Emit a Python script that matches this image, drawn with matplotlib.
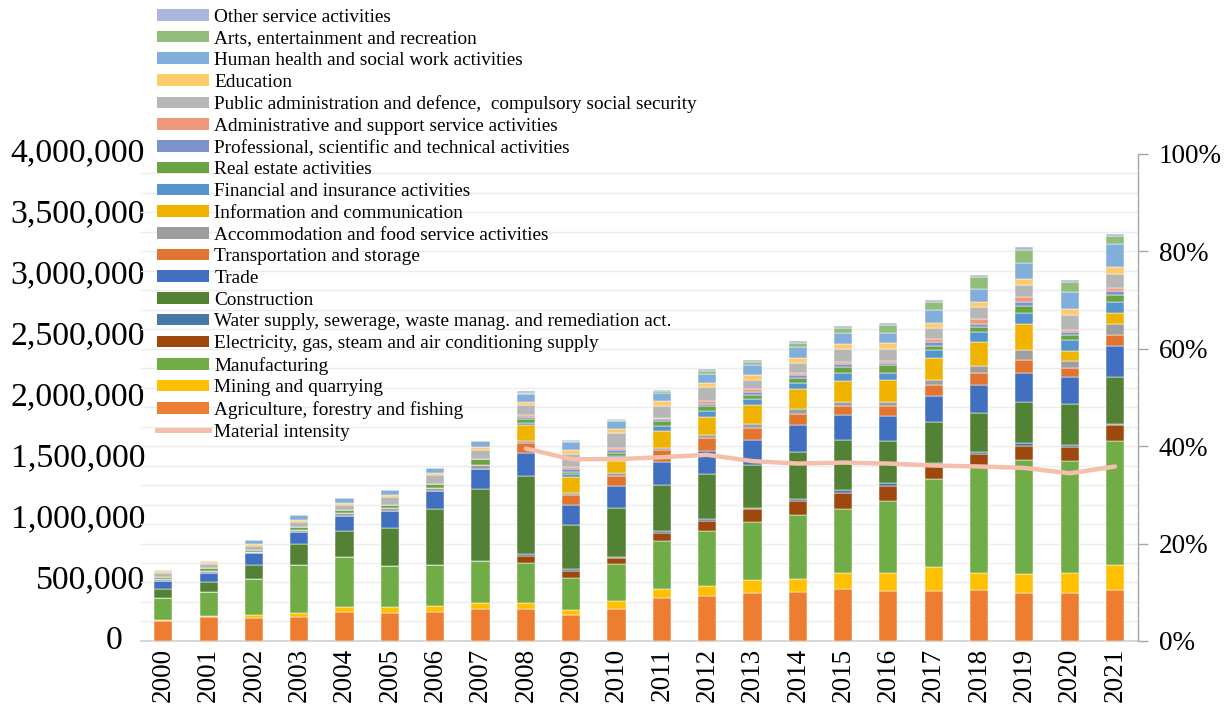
import matplotlib
matplotlib.use("Agg")
import matplotlib.pyplot as plt
import matplotlib.transforms as mtransforms
from matplotlib.patches import Patch
from matplotlib.lines import Line2D
import numpy as np

plt.rcParams['font.family'] = ['Liberation Serif', 'DejaVu Serif']

years = [str(y) for y in range(2000, 2022)]

# Gross value added by sector (thousands), stacked bottom to top
agriculture = [164, 194, 191, 200, 241, 230, 241, 263, 265, 216, 263, 356, 372, 397, 402, 429, 413, 413, 421, 397, 391, 418]
mining = [11, 11, 22, 27, 36, 49, 46, 46, 44, 41, 63, 68, 82, 104, 104, 126, 148, 191, 139, 150, 170, 205]
manufacturing = [175, 194, 295, 394, 410, 336, 334, 347, 334, 260, 304, 394, 449, 473, 528, 531, 585, 724, 875, 938, 913, 1017]
electricity = [0, 0, 0, 0, 0, 0, 0, 0, 57, 60, 49, 66, 85, 107, 118, 129, 129, 120, 101, 118, 120, 129]
water = [0, 0, 0, 0, 0, 0, 0, 0, 16, 11, 11, 16, 16, 14, 16, 22, 19, 12, 16, 19, 14, 11]
construction = [79, 82, 115, 178, 213, 315, 459, 588, 634, 361, 399, 380, 364, 350, 386, 410, 345, 336, 320, 336, 334, 383]
trade = [66, 79, 96, 96, 129, 139, 153, 170, 194, 167, 183, 191, 194, 208, 222, 211, 211, 211, 230, 243, 227, 260]
transport = [0, 0, 0, 0, 0, 0, 0, 0, 79, 79, 82, 96, 104, 98, 88, 71, 77, 90, 96, 107, 74, 90]
accommodation = [11, 16, 14, 19, 19, 25, 22, 27, 16, 16, 22, 19, 27, 33, 36, 36, 36, 41, 60, 77, 57, 90]
information = [0, 0, 0, 0, 0, 0, 0, 0, 131, 134, 101, 137, 148, 153, 164, 170, 181, 186, 194, 219, 79, 85]
financial = [0, 0, 0, 0, 0, 0, 0, 0, 22, 22, 38, 41, 44, 46, 49, 60, 55, 63, 85, 90, 88, 93]
real_estate = [19, 19, 16, 22, 27, 22, 36, 52, 27, 22, 27, 38, 44, 38, 41, 55, 63, 36, 38, 57, 44, 60]
professional = [0, 0, 0, 0, 0, 0, 0, 0, 16, 19, 22, 16, 19, 22, 25, 22, 19, 27, 30, 33, 27, 33]
administrative = [0, 0, 0, 0, 0, 0, 0, 0, 16, 16, 19, 14, 22, 22, 16, 19, 19, 27, 36, 41, 16, 25]
public_admin = [35, 36, 30, 41, 44, 68, 74, 77, 88, 109, 126, 96, 112, 79, 88, 104, 93, 88, 96, 96, 123, 115]
education = [11, 14, 16, 16, 16, 14, 16, 22, 25, 33, 33, 38, 38, 38, 41, 46, 49, 46, 41, 49, 46, 55]
health = [8, 14, 33, 41, 36, 41, 41, 49, 60, 63, 60, 71, 74, 82, 88, 85, 88, 104, 112, 128, 142, 191]
arts = [0, 0, 0, 0, 0, 0, 0, 0, 14, 11, 11, 11, 19, 27, 36, 46, 63, 68, 98, 112, 82, 60]
other_services = [0, 0, 0, 0, 0, 0, 0, 0, 11, 8, 5, 8, 16, 11, 14, 16, 16, 14, 16, 19, 19, 19]

# Material intensity (share), available from 2008
intensity_years = years[8:]
material_intensity = [0.395, 0.373, 0.373, 0.377, 0.382, 0.369, 0.364, 0.366, 0.364, 0.360, 0.358, 0.355, 0.344, 0.358]

sector_names = [
    "Agriculture, forestry and fishing",
    "Mining and quarrying",
    "Manufacturing",
    "Electricity, gas, steam and air conditioning supply",
    "Water supply, sewerage, waste manag. and remediation act.",
    "Construction",
    "Trade",
    "Transportation and storage",
    "Accommodation and food service activities",
    "Information and communication",
    "Financial and insurance activities",
    "Real estate activities",
    "Professional, scientific and technical activities",
    "Administrative and support service activities",
    "Public administration and defence,  compulsory social security",
    "Education",
    "Human health and social work activities",
    "Arts, entertainment and recreation",
    "Other service activities",
]
sector_values = [agriculture, mining, manufacturing, electricity, water, construction, trade,
                 transport, accommodation, information, financial, real_estate, professional,
                 administrative, public_admin, education, health, arts, other_services]
sector_colors = ["#ED7D31", "#FFC000", "#70AD47", "#9E480E", "#4679A8", "#548235", "#4270C0",
                 "#E07430", "#9E9E9E", "#F0B400", "#5594CC", "#6BA343", "#7E92CE",
                 "#F0997A", "#B7B7B7", "#FFCA6A", "#82AEDC", "#92BD7A", "#AAB6DC"]
line_color = "#F4BFAC"

fig = plt.figure(figsize=(12.31, 7.15), dpi=100)
ax = fig.add_axes([0.1142, 0.1035, 0.9242 - 0.1142, 0.7853 - 0.1035])

x = np.arange(len(years))
bottom = np.zeros(len(years))
for name, vals, col in zip(sector_names, sector_values, sector_colors):
    v = np.array(vals, dtype=float) * 1000
    ax.bar(x, v, width=0.4, bottom=bottom, color=col, edgecolor="white", linewidth=0.35, zorder=3)
    bottom += v

ax.set_xlim(-0.5, len(years) - 0.5)
ax.set_ylim(0, 4_000_000)
ax.set_xticks(x)
ax.set_xticklabels(years, rotation=90, fontsize=19.5)
ax.tick_params(axis="x", length=0, pad=5)

# Light horizontal guides every 4 % of the secondary scale
ax.set_yticks(np.arange(0, 4_000_001, 160_000), minor=True)
ax.yaxis.grid(True, which="minor", color="#EDEDED", linewidth=1.0, zorder=0)
ax.tick_params(axis="y", which="both", length=0, labelleft=False)
ax.set_yticks(np.arange(0, 4_000_001, 500_000))

left_ticks = np.arange(0, 4_000_001, 500_000)
trans = mtransforms.blended_transform_factory(ax.transAxes, ax.transData)
for t in left_ticks:
    label = f"{int(t):,}"
    xoff = 0.0045 if t > 0 else -0.018
    ax.text(xoff, t, label, transform=trans, ha="right", va="center", fontsize=24.3, zorder=1)

for side in ("left", "top", "right"):
    ax.spines[side].set_visible(False)
ax.spines["bottom"].set_color("#D0D0D0")
ax.spines["bottom"].set_linewidth(1.2)

ax2 = ax.twinx()
ax2.set_ylim(0, 1)
ax2.set_yticks(np.arange(0, 1.01, 0.2))
ax2.set_yticklabels([f"{int(round(v * 100))}%" for v in np.arange(0, 1.01, 0.2)], fontsize=19.5)
ax2.tick_params(axis="y", length=7, width=1, color="#A6A6A6", pad=8.2)
for side in ("left", "top", "bottom"):
    ax2.spines[side].set_visible(False)
ax2.spines["right"].set_color("#A6A6A6")
ax2.spines["right"].set_linewidth(1.0)
xi = [years.index(y) for y in intensity_years]
ax2.plot(xi, material_intensity, color=line_color, linewidth=3.2, solid_capstyle="round", zorder=5)

handles = [Patch(facecolor=c, edgecolor="none") for c in sector_colors][::-1]
labels = sector_names[::-1]
handles.append(Line2D([0], [0], color=line_color, linewidth=3.6))
labels.append("Material intensity")
fig.legend(handles, labels, loc="upper left", bbox_to_anchor=(0.1275, 0.988),
           frameon=False, fontsize=13.85, handlelength=2.68, handleheight=0.55,
           handletextpad=0.3, labelspacing=0.245, borderpad=0, borderaxespad=0)

fig.savefig("out.png", dpi=100)
